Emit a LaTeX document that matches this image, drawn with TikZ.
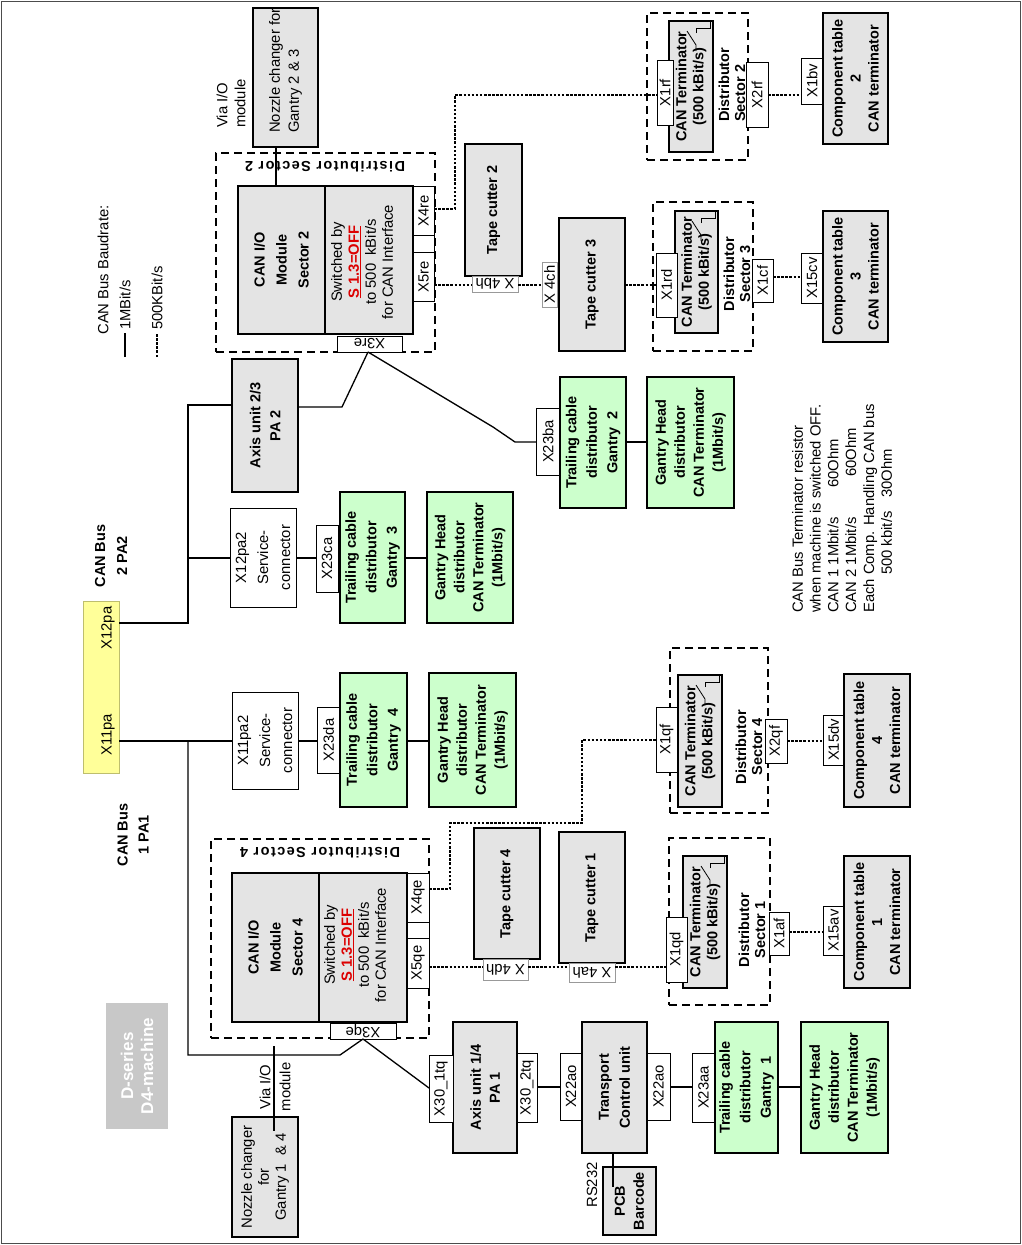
\documentclass[tikz,border=0pt]{standalone}
\usepackage{fontspec}
\setmainfont{Liberation Sans}
\usetikzlibrary{calc}
\definecolor{boxgray}{RGB}{228,228,228}
\definecolor{gfill}{RGB}{204,255,204}
\definecolor{yfill}{RGB}{255,255,153}
\definecolor{ydraw}{RGB}{190,190,110}
\definecolor{dfill}{RGB}{200,200,200}
\definecolor{sred}{RGB}{220,0,0}
\newcommand{\fbf}[1]{\fontsize{14.5}{#1}\selectfont\bfseries}
\newcommand{\frg}[1]{\fontsize{14.8}{#1}\selectfont}
\newcommand{\swsym}[1]{%
  \draw[line width=0.8pt] ($(#1.south east)+(-17,30)$) -- ++(0,-6) -- ++(-9,-14);
  \draw[line width=0.8pt] ($(#1.south east)+(-17,12)$) -- ++(0,-5) -- ++(14,0) -- ++(0,-7);}
\tikzset{
  rect90/.style n args={4}{rotate=90, at={({(#1+#3)/2},{(#2+#4)/2})}, minimum width={(#4-#2)*1pt}, minimum height={(#3-#1)*1pt}},
  rect180/.style n args={4}{rotate=180, at={({(#1+#3)/2},{(#2+#4)/2})}, minimum width={(#3-#1)*1pt}, minimum height={(#4-#2)*1pt}},
  rect0/.style n args={4}{at={({(#1+#3)/2},{(#2+#4)/2})}, minimum width={(#3-#1)*1pt}, minimum height={(#4-#2)*1pt}},
  nb/.style={inner sep=0pt, outer sep=0pt, align=center},
  gbox/.style={nb, draw, fill=boxgray, line width=1.2pt, font=\fbf{19}},
  grn/.style={nb, draw, fill=gfill, line width=1.2pt, font=\fbf{19}},
  wbox/.style={nb, draw, fill=white, line width=1pt, font=\frg{22}},
  port/.style={nb, draw, fill=white, line width=0.9pt, font=\frg{15}},
  portg/.style={port, draw=black!40},
  dbox/.style={nb, draw, line width=1.1pt, dash pattern=on 8pt off 5pt},
  wire/.style={line width=1.3pt},
  lowbaud/.style={line width=1.2pt, dash pattern=on 2.5pt off 1.6pt},
  txt/.style={inner sep=0pt, align=center, rotate=90, font=\frg{18}},
  dlab/.style={inner sep=0pt, rotate=180, font=\fbf{16}\addfontfeature{LetterSpace=10}}
}
\begin{document}
\begin{tikzpicture}[x=1pt, y=-1pt]
\useasboundingbox (0,0) rectangle (1022,1245);
\draw[line width=1.6pt, black!70] (1.5,1.5) rectangle (1020.5,1243.5);

% dashed distributor frames
\node[dbox, rect0={216}{153}{435}{352}] (ds2) {};
\node[dbox, rect0={647}{13}{748}{160}] (ds2r) {};
\node[dbox, rect0={653}{202}{753}{351}] (ds3) {};
\node[dbox, rect0={211}{839}{429}{1038}] (ds4) {};
\node[dbox, rect0={670}{648}{768}{813}] (ds4r) {};
\node[dbox, rect0={669}{838}{770}{1005}] (ds1) {};

% legend
\node[txt] (lgt) at (103,270) {CAN Bus Baudrate:};
\coordinate (lg1a) at (125,357); \coordinate (lg1b) at (125,333);
\draw[wire] (lg1a) -- (lg1b);
\node[txt, anchor=west] (lg1) at (125,330) {1MBit/s};
\coordinate (lg2a) at (157,357); \coordinate (lg2b) at (157,333);
\draw[lowbaud] (lg2a) -- (lg2b);
\node[txt, anchor=west] (lg2) at (157,330) {500KBit/s};

% nozzle changer 2 & 3
\node[gbox, rect90={253}{8}{318}{147}] (nz23) {};
\node[txt, anchor=west, align=left, font=\frg{19}] (nz23t) at (285.5,133) {Nozzle changer for\\Gantry 2 \& 3};
\node[txt, anchor=west, align=left] (via1) at (231,128) {Via I/O\\module};

% sector 2 module
\node[dlab] (ds2l) at (325,167) {Distributor Sector 2};
\node[gbox, rect90={238}{186}{325}{334}, font=\fbf{22}] (cio2) {CAN I/O\\Module\\Sector 2};
\node[gbox, rect90={325}{186}{413}{334}] (sw2) {};
\node[txt, font=\frg{17}] (sw2t) at (362,262) {Switched by\\{\bfseries\color{sred}\underline{S 1.3=OFF}}\\to 500\ \ kBit/s\\for CAN Interface};
\node[port, rect90={413}{186}{434}{235}] (x4re) {X4re};
\node[port, rect90={413}{235}{434}{252}] (xb2) {};
\node[port, rect90={413}{252}{434}{301}] (x5re) {X5re};
\node[port, rect180={337}{336}{402}{352}] (x3re) {X3re};

% tape cutters 2/3
\node[gbox, rect90={465}{144}{522}{276}] (tc2) {Tape cutter 2};
\node[portg, rect180={472}{276}{518}{292}] (x4bh) {X 4bh};
\node[portg, rect90={542}{262}{557}{307}] (x4ch) {X 4ch};
\node[gbox, rect90={559}{218}{625}{351}] (tc3) {Tape cutter 3};

% distributor sector 2 (right)
\node[gbox, rect90={669}{21}{713}{152}, font=\fbf{17}] (ct2) {CAN Terminator\\(500 kBit/s)};
\node[port, rect90={657}{60}{673}{125}] (x1rf) {X1rf};
\node[txt, font=\fbf{16}, anchor=west, align=left] (d2l) at (732,122) {Distributor\\Sector 2};
\node[port, rect90={746}{62}{768}{127}] (x2rf) {X2rf};
\node[port, rect90={801}{58}{823}{104}] (x1bv) {X1bv};
\node[gbox, rect90={823}{13}{888}{144}, font=\fbf{18}] (cmp2) {Component table\\2\\CAN terminator};

% distributor sector 3
\node[gbox, rect90={675}{211}{718}{333}, font=\fbf{17}] (ct3) {CAN Terminator\\(500 kBit/s)};
\node[port, rect90={656}{253}{677}{317}] (x1rd) {X1rd};
\node[txt, font=\fbf{16}] (d3l) at (737,274) {Distributor\\Sector 3};
\node[port, rect90={752}{259}{773}{302}] (x1cf) {X1cf};
\node[port, rect90={801}{253}{823}{303}] (x15cv) {X15cv};
\node[gbox, rect90={823}{211}{888}{342}, font=\fbf{18}] (cmp3) {Component table\\3\\CAN terminator};

% axis unit 2/3
\node[gbox, rect90={232}{359}{298}{492}, font=\fbf{20}] (ax23) {Axis unit 2/3\\PA 2};

% gantry 3
\node[wbox, rect90={230}{508}{296}{607}] (sv2) {X12pa2\\Service-\\connector};
\node[port, rect90={316}{525}{338}{592}] (x23ca) {X23ca};
\node[grn, rect90={340}{492}{405}{623}, font=\fbf{20.5}] (tr3) {Trailing cable\\distributor\\Gantry\ \ 3};
\node[grn, rect90={427}{492}{513}{623}] (hd3) {Gantry Head\\distributor\\CAN Terminator\\(1Mbit/s)};

% gantry 2
\node[port, rect90={536}{408}{560}{475}] (x23ba) {X23ba};
\node[grn, rect90={560}{377}{626}{508}, font=\fbf{20.5}] (tr2) {Trailing cable\\distributor\\Gantry\ \ 2};
\node[grn, rect90={647}{377}{734}{508}] (hd2) {Gantry Head\\distributor\\CAN Terminator\\(1Mbit/s)};

% bus
\node[nb, draw=ydraw, fill=yfill, line width=1pt, rect0={83}{601}{119}{773}] (bus) {};
\node[txt] (x12pa) at (108,628) {X12pa};
\node[txt] (x11pa) at (108,735) {X11pa};
\node[txt, font=\fbf{22}] (cb2) at (111,556) {CAN Bus\\2 PA2};
\node[txt, font=\fbf{21}] (cb1) at (133,835) {CAN Bus\\1 PA1};

% gantry 4
\node[wbox, rect90={232}{692}{298}{789}] (sv1) {X11pa2\\Service-\\connector};
\node[port, rect90={317}{707}{340}{773}] (x23da) {X23da};
\node[grn, rect90={340}{673}{407}{807}, font=\fbf{20.5}] (tr4) {Trailing cable\\distributor\\Gantry\ \ 4};
\node[grn, rect90={429}{673}{516}{807}] (hd4) {Gantry Head\\distributor\\CAN Terminator\\(1Mbit/s)};

% sector 4 module
\node[dlab] (ds4l) at (320,853) {Distributor Sector 4};
\node[gbox, rect90={232}{873}{319}{1022}, font=\fbf{22}] (cio4) {CAN I/O\\Module\\Sector 4};
\node[gbox, rect90={319}{873}{407}{1022}] (sw4) {};
\node[txt, font=\frg{17}] (sw4t) at (355,945) {Switched by\\{\bfseries\color{sred}\underline{S 1.3=OFF}}\\to 500\ \ kBit/s\\for CAN Interface};
\node[port, rect90={407}{873}{429}{922}] (x4qe) {X4qe};
\node[port, rect90={407}{922}{429}{938}] (xb4) {};
\node[port, rect90={407}{938}{429}{988}] (x5qe) {X5qe};
\node[port, rect180={330}{1023}{396}{1039}] (x3qe) {X3qe};

% tape cutters 4/1
\node[gbox, rect90={474}{828}{540}{959}] (tc4) {Tape cutter 4};
\node[portg, rect180={483}{959}{528}{980}] (x4dh) {X 4dh};
\node[gbox, rect90={559}{832}{625}{963}] (tc1) {Tape cutter 1};
\node[portg, rect180={569}{963}{615}{982}] (x4ah) {X 4ah};

% distributor sector 4 (right)
\node[gbox, rect90={678}{675}{722}{807}, font=\fbf{17}] (ct4) {CAN Terminator\\(500 kBit/s)};
\node[port, rect90={656}{707}{677}{772}] (x1qf) {X1qf};
\node[txt, font=\fbf{16}] (d4l) at (749,747) {Distributor\\Sector 4};
\node[port, rect90={765}{719}{787}{763}] (x2qf) {X2qf};
\node[port, rect90={823}{715}{844}{765}] (x15dv) {X15dv};
\node[gbox, rect90={844}{674}{910}{807}, font=\fbf{18}] (cmp4) {Component table\\4\\CAN terminator};

% distributor sector 1
\node[gbox, rect90={683}{856}{727}{988}, font=\fbf{17}] (ct1) {CAN Terminator\\(500 kBit/s)};
\node[port, rect90={666}{917}{687}{982}] (x1qd) {X1qd};
\node[txt, font=\fbf{16}] (d1l) at (752,930) {Distributor\\Sector 1};
\node[port, rect90={769}{912}{789}{955}] (x1af) {X1af};
\node[port, rect90={823}{906}{844}{955}] (x15av) {X15av};
\node[gbox, rect90={844}{856}{910}{988}, font=\fbf{18}] (cmp1) {Component table\\1\\CAN terminator};

% note
\node[txt, anchor=west, align=left, font=\frg{17.8}] (note) at (842,613) {CAN Bus Terminator resistor\\when machine is switched OFF.\\\makebox[125pt][l]{CAN 1 1Mbit/s}60Ohm\\\makebox[136pt][l]{CAN 2 1Mbit/s}60Ohm\\Each Comp. Handling CAN bus\\\hspace*{38pt}\makebox[77pt][l]{500 kbit/s}30Ohm};

% bottom row
\node[gbox, rect90={232}{1117}{298}{1237}, font=\frg{17}] (nz14) {Nozzle changer\\for\\Gantry 1\ \ \& 4};
\node[txt, font=\frg{20}] (via2) at (275,1087) {Via I/O\\module};
\node[nb, fill=dfill, rect90={106}{1003}{168}{1129}, text=white, font=\fontsize{17}{20}\selectfont\bfseries] (dser) {D-series\\D4-machine};
\node[gbox, rect90={453}{1022}{517}{1153}] (ax14) {Axis unit 1/4\\PA 1};
\node[port, rect90={429}{1055}{453}{1122}] (x301) {X30\_1tq};
\node[port, rect90={517}{1053}{537}{1122}] (x302) {X30\_2tq};
\node[port, rect90={560}{1053}{582}{1120}] (x22a) {X22ao};
\node[gbox, rect90={582}{1022}{647}{1153}, font=\fbf{21}] (tcu) {Transport\\Control unit};
\node[port, rect90={647}{1053}{670}{1120}] (x22b) {X22ao};
\node[port, rect90={692}{1053}{715}{1122}] (x23aa) {X23aa};
\node[grn, rect90={715}{1022}{778}{1153}, font=\fbf{20.5}] (tr1) {Trailing cable\\distributor\\Gantry\ \ 1};
\node[grn, rect90={801}{1022}{888}{1153}] (hd1) {Gantry Head\\distributor\\CAN Terminator\\(1Mbit/s)};
\node[gbox, rect90={603}{1167}{656}{1235}] (pcb) {PCB\\Barcode};
\node[txt] (rs) at (592,1185) {RS232};

% switch symbols
\swsym{ct2}
\swsym{ct3}
\swsym{ct4}
\swsym{ct1}

% ---------- connectors ----------
\coordinate (c276) at (276,0);
\draw[wire] (c276 |- nz23.west) -- (c276 |- cio2.east);

\coordinate (d1) at (455,209); \coordinate (d2) at (455,95);
\draw[lowbaud] (x4re.south |- d1) -- (d1) -- (d2) -- (x1rf.north |- d2);
\coordinate (y285) at (0,285);
\draw[lowbaud] (x5re.south |- y285) -- (x4bh.east |- y285);
\draw[lowbaud] (x4bh.west |- y285) -- (x4ch.north |- y285);
\draw[lowbaud] (tc3.south |- y285) -- (x1rd.north |- y285);
\coordinate (y95) at (0,95);
\draw[lowbaud] (x2rf.south |- y95) -- (x1bv.north |- y95);
\coordinate (y277) at (0,277);
\draw[lowbaud] (x1cf.south |- y277) -- (x15cv.north |- y277);

% CAN bus 2
\coordinate (b2a) at (188,623); \coordinate (b2b) at (188,405); \coordinate (b2c) at (188,558);
\draw[wire] (bus.east |- b2a) -- (b2a) -- (b2b) -- (ax23.north |- b2b);
\draw[wire] (b2c) -- (sv2.north |- b2c);
\coordinate (a1) at (342,407); \coordinate (x368) at (368,0);
\draw[wire] (ax23.south |- a1) -- (a1) -- (x368 |- x3re.north);
\coordinate (k1) at (493,427); \coordinate (k2) at (515,442);
\draw[wire] (x368 |- x3re.north) -- (k1) -- (k2) -- (x23ba.north |- k2);
\coordinate (y558) at (0,558);
\draw[wire] (sv2.south |- y558) -- (x23ca.north |- y558);
\draw[wire] (tr3.south |- y558) -- (hd3.north |- y558);
\coordinate (y442) at (0,442);
\draw[wire] (tr2.south |- y442) -- (hd2.north |- y442);

% CAN bus 1
\coordinate (y741) at (0,741); \coordinate (b1a) at (188,741); \coordinate (b1b) at (188,1055); \coordinate (b1c) at (340,1055); \coordinate (x363) at (363,0);
\draw[wire] (bus.east |- y741) -- (sv1.north |- y741);
\draw[wire] (b1a) -- (b1b) -- (b1c) -- (x363 |- x3qe.north);
\coordinate (y1088) at (0,1088);
\draw[wire] (x363 |- x3qe.north) -- (x301.north |- y1088);
\draw[wire] (sv1.south |- y741) -- (x23da.north |- y741);
\draw[wire] (tr4.south |- y741) -- (hd4.north |- y741);

\coordinate (nzA) at (274,1046); \coordinate (nzB) at (274,1131);
\draw[wire] (nzA) -- (nzB);

% sector 4 low-baud lines
\coordinate (e1) at (450,889); \coordinate (e2) at (450,823); \coordinate (e3) at (582,823); \coordinate (e4) at (582,740);
\draw[lowbaud] (x4qe.south |- e1) -- (e1) -- (e2) -- (e3) -- (e4) -- (x1qf.north |- e4);
\coordinate (y967) at (0,967);
\draw[lowbaud] (x5qe.south |- y967) -- (x4dh.east |- y967);
\draw[lowbaud] (x4dh.west |- y967) -- (x4ah.east |- y967);
\draw[lowbaud] (x4ah.west |- y967) -- (x1qd.north |- y967);
\draw[lowbaud] (x2qf.south |- y741) -- (x15dv.north |- y741);
\coordinate (y932) at (0,932);
\draw[lowbaud] (x1af.south |- y932) -- (x15av.north |- y932);

% bottom row wires
\coordinate (y1087) at (0,1087);
\draw[wire] (x302.south |- y1087) -- (x22a.north |- y1087);
\draw[wire] (x22b.south |- y1087) -- (x23aa.north |- y1087);
\draw[wire] (tr1.south |- y1087) -- (hd1.north |- y1087);
\coordinate (x613) at (613,0); \coordinate (pcbin) at (613,1187);
\draw[wire] (x613 |- tcu.west) -- (pcbin);
\end{tikzpicture}
\end{document}
